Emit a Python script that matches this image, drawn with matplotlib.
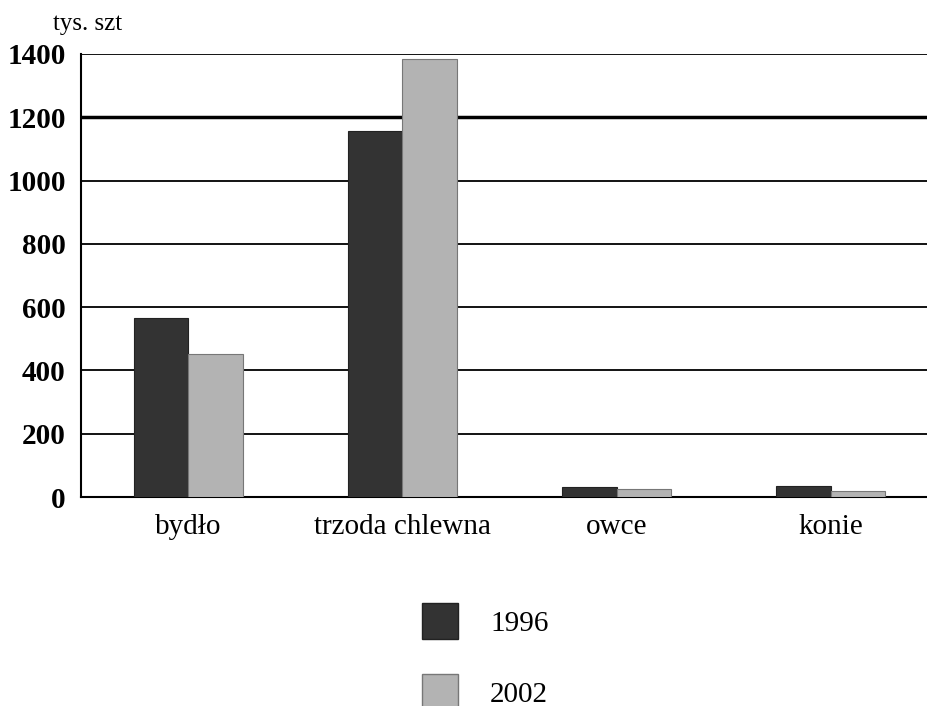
import matplotlib
matplotlib.use("Agg")
import matplotlib.pyplot as plt
from matplotlib.patches import Patch
import numpy as np

# pogłowie zwierząt gospodarskich, tys. szt
categories = ["bydło", "trzoda chlewna", "owce", "konie"]
years = ["1996", "2002"]
values_1996 = [566, 1157, 31, 34]
values_2002 = [452, 1384, 24, 18]
y_ticks = [0, 200, 400, 600, 800, 1000, 1200, 1400]

DARK = "#333333"
LIGHT = "#b3b3b3"

plt.rcParams["font.family"] = ["Liberation Serif", "DejaVu Serif"]

fig = plt.figure(figsize=(9.27, 7.06), dpi=100)
ax = fig.add_axes([81 / 927, 1 - 497 / 706, 1 - 81 / 927, (497 - 54) / 706])

x = np.arange(len(categories))
w = 0.254
ax.bar(x - w / 2, values_1996, w, color=DARK, edgecolor="#222222", linewidth=0.8, zorder=3)
ax.bar(x + w / 2, values_2002, w, color=LIGHT, edgecolor="#777777", linewidth=0.8, zorder=3)

# prawa krawędź osi wychodzi poza obrazek, jak w oryginale
ax.set_xlim(-0.5, 3.449)
ax.set_ylim(0, 1400)
ax.set_yticks(y_ticks)
ax.set_yticklabels([str(v) for v in y_ticks], fontsize=21, fontweight="bold")
ax.set_xticks(x)
ax.set_xticklabels(categories, fontsize=21)
ax.tick_params(axis="both", length=0)
ax.tick_params(axis="y", pad=11)
ax.tick_params(axis="x", pad=12)

# linie siatki
for v in y_ticks[1:]:
    lw = 2.5 if v == 1200 else 1.3
    ax.axhline(v, color="black", linewidth=lw, zorder=1)

for s in ["top", "right"]:
    ax.spines[s].set_visible(False)
ax.spines["left"].set_linewidth(1.5)
ax.spines["bottom"].set_linewidth(1.5)

fig.text(53 / 927, 1 - 13 / 706, "tys. szt", fontsize=18, ha="left", va="top")

handles = [Patch(facecolor=DARK, edgecolor="#222222"),
           Patch(facecolor=LIGHT, edgecolor="#777777")]
fig.legend(handles, years, loc="upper left", bbox_to_anchor=(422 / 927, 1 - 603 / 706),
           frameon=False, fontsize=21, handlelength=1.23, handleheight=1.52,
           handletextpad=1.1, labelspacing=1.2, borderpad=0, borderaxespad=0)

fig.savefig("out.png", dpi=100)
